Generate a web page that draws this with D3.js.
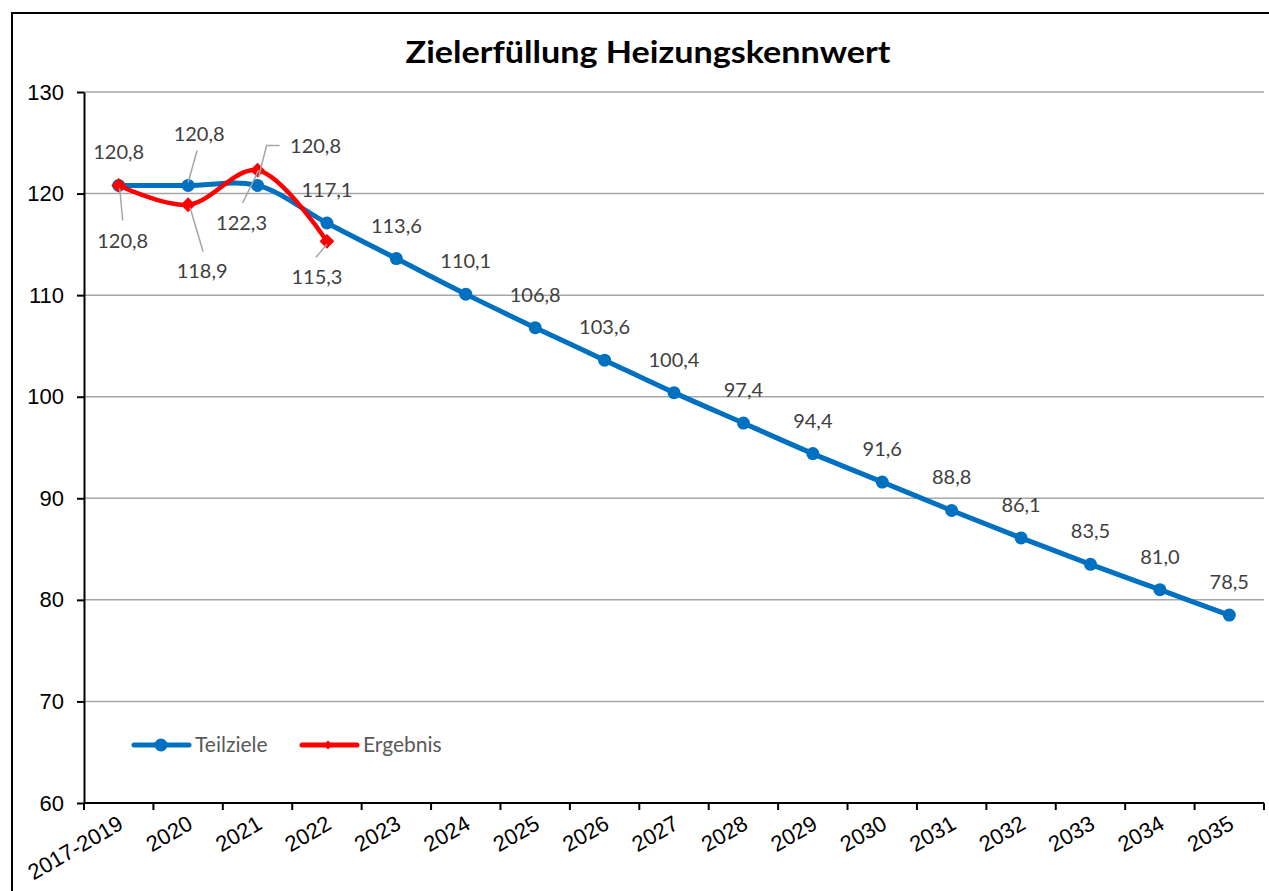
<!DOCTYPE html>
<html>
<head>
<meta charset="utf-8">
<script src="https://cdn.jsdelivr.net/npm/d3@7"></script>
<style>
  body { margin: 0; background: #fff; }
  svg { display: block; }
</style>
</head>
<body>
<svg id="chart"></svg>
<script>
const categories = ["2017-2019", "2020", "2021", "2022", "2023", "2024", "2025", "2026", "2027",
  "2028", "2029", "2030", "2031", "2032", "2033", "2034", "2035"];
const teilziele = [120.8, 120.8, 120.8, 117.1, 113.6, 110.1, 106.8, 103.6, 100.4,
  97.4, 94.4, 91.6, 88.8, 86.1, 83.5, 81.0, 78.5];
const ergebnis = [120.8, 118.9, 122.3, 115.3];
const yTicks = [60, 70, 80, 90, 100, 110, 120, 130];

// label placement tweaks (dx, dy from point, optional leader line)
const blueLabelOffsets = { 1: { dx: 11, dy: -44, lead: [[9, -35], [0, -3]] },
  2: { dx: 58, dy: -32, lead: [[22, -40], [9, -40], [1, -8]] } };
const redLabelOffsets = { 0: { dx: 4, dy: 63, lead: [[1, 3], [4, 35]] },
  1: { dx: 14, dy: 73, lead: [[2, 3], [15, 47]] },
  2: { dx: -16, dy: 60, lead: [[-15, 33], [1, 0]] },
  3: { dx: -10, dy: 43, lead: [[-11, 16], [0, 3]] } };

const width = 1269, height = 891;
const margin = { left: 84, right: 5, top: 92, bottom: 88 };

const fmt = (v) => d3.format(".1f")(v).replace(".", ",");
const axisFont = "'Liberation Sans', Arial, sans-serif";
const labelFont = "Lato, sans-serif";

const $svg = d3.select("#chart").attr("width", width).attr("height", height);

// outer frame
$svg.append("rect")
  .attr("x", 12).attr("y", 13)
  .attr("width", 1300).attr("height", 1000)
  .attr("fill", "#fff").attr("stroke", "#000").attr("stroke-width", 2);

const x = d3.scaleBand().domain(categories)
  .range([margin.left, width - margin.right]);
const y = d3.scaleLinear().domain([60, 130])
  .range([height - margin.bottom, margin.top]);
const cx = (i) => x(categories[i]) + x.bandwidth() / 2;

// title
$svg.append("text")
  .attr("x", 648).attr("y", 63)
  .attr("text-anchor", "middle")
  .attr("textLength", 485)
  .attr("lengthAdjust", "spacingAndGlyphs")
  .style("font-family", labelFont)
  .style("font-weight", "700")
  .style("font-size", "31px")
  .attr("fill", "#000")
  .text("Zielerfüllung Heizungskennwert");

// gridlines
$svg.append("g")
  .selectAll("line")
  .data(yTicks)
  .enter()
  .append("line")
  .attr("x1", margin.left).attr("x2", width - margin.right)
  .attr("y1", (d) => y(d)).attr("y2", (d) => y(d))
  .attr("stroke", "#a6a6a6").attr("stroke-width", 1.5);

// y axis
const $yAxis = $svg.append("g")
  .attr("transform", `translate(${margin.left},0)`)
  .attr("font-family", axisFont)
  .attr("font-size", 22)
  .call(d3.axisLeft(y).tickValues(yTicks).tickSize(7).tickPadding(13).tickSizeOuter(0));
$yAxis.attr("font-family", axisFont).attr("font-size", 22);
$yAxis.select(".domain").attr("stroke", "#000").attr("stroke-width", 2);
$yAxis.selectAll(".tick line").attr("stroke", "#000").attr("stroke-width", 2);
$yAxis.selectAll("text").attr("fill", "#000");

// x axis (ticks on band edges)
const $xAxis = $svg.append("g")
  .attr("transform", `translate(0,${height - margin.bottom})`);
$xAxis.append("line")
  .attr("x1", margin.left).attr("x2", width - margin.right)
  .attr("stroke", "#000").attr("stroke-width", 2);
$xAxis.selectAll(".xtick")
  .data(d3.range(categories.length + 1))
  .enter()
  .append("line")
  .attr("x1", (i) => margin.left + i * x.step())
  .attr("x2", (i) => margin.left + i * x.step())
  .attr("y1", 0).attr("y2", 7)
  .attr("stroke", "#000").attr("stroke-width", 2);
$xAxis.selectAll(".xlabel")
  .data(categories)
  .enter()
  .append("text")
  .attr("text-anchor", "end")
  .attr("transform", (d, i) => `translate(${cx(i) + 6},${25}) rotate(-30)`)
  .style("font-family", axisFont)
  .style("font-size", "22px")
  .attr("fill", "#000")
  .text((d) => d);

const line = d3.line()
  .x((d, i) => cx(i))
  .y((d) => y(d))
  .curve(d3.curveCatmullRom.alpha(0.5));

const blue = "#0070c0", red = "#ff0000";

// Teilziele
$svg.append("path")
  .attr("d", line(teilziele))
  .attr("fill", "none").attr("stroke", blue)
  .attr("stroke-width", 5).attr("stroke-linejoin", "round").attr("stroke-linecap", "round");
$svg.append("g")
  .selectAll("circle")
  .data(teilziele)
  .enter()
  .append("circle")
  .attr("cx", (d, i) => cx(i)).attr("cy", (d) => y(d))
  .attr("r", 6.5).attr("fill", blue);

// Ergebnis
$svg.append("path")
  .attr("d", line(ergebnis))
  .attr("fill", "none").attr("stroke", red)
  .attr("stroke-width", 4.5).attr("stroke-linejoin", "round").attr("stroke-linecap", "round");
const diamond = d3.symbol().type(d3.symbolDiamond2).size(140);
$svg.append("g")
  .selectAll("path")
  .data(ergebnis)
  .enter()
  .append("path")
  .attr("d", diamond)
  .attr("transform", (d, i) => `translate(${cx(i)},${y(d)})`)
  .attr("fill", red);

// data labels
const drawLabels = (values, offsets) => {
  const $g = $svg.append("g");
  values.forEach((v, i) => {
    const o = offsets[i] || { dx: 0, dy: -26 };
    const px = cx(i), py = y(v);
    if (o.lead) {
      $g.append("polyline")
        .attr("points", o.lead.map((p) => `${px + p[0]},${py + p[1]}`).join(" "))
        .attr("fill", "none").attr("stroke", "#a6a6a6").attr("stroke-width", 1.5);
    }
    $g.append("text")
      .attr("x", px + o.dx).attr("y", py + o.dy)
      .attr("text-anchor", "middle")
      .style("font-family", labelFont)
      .style("font-size", "20px")
      .attr("fill", "#404040")
      .text(fmt(v));
  });
};
drawLabels(teilziele, blueLabelOffsets);
drawLabels(ergebnis, redLabelOffsets);

// legend
const legendItems = [
  { name: "Teilziele", color: blue, x: 134, mark: "circle" },
  { name: "Ergebnis", color: red, x: 302, mark: "diamond" },
];
const $legend = $svg.append("g").attr("transform", "translate(0,745)");
legendItems.forEach((d) => {
  $legend.append("line")
    .attr("x1", d.x).attr("x2", d.x + 55)
    .attr("stroke", d.color).attr("stroke-width", 5).attr("stroke-linecap", "round");
  if (d.mark === "circle") {
    $legend.append("circle").attr("cx", d.x + 27).attr("r", 6.5).attr("fill", d.color);
  } else {
    $legend.append("path").attr("d", d3.symbol().type(d3.symbolDiamond2).size(50))
      .attr("transform", `translate(${d.x + 26},0)`).attr("fill", d.color);
  }
  $legend.append("text")
    .attr("x", d.x + 61).attr("y", 7)
    .style("font-family", labelFont)
    .style("font-size", "21px")
    .attr("fill", "#595959")
    .text(d.name);
});
</script>
</body>
</html>
